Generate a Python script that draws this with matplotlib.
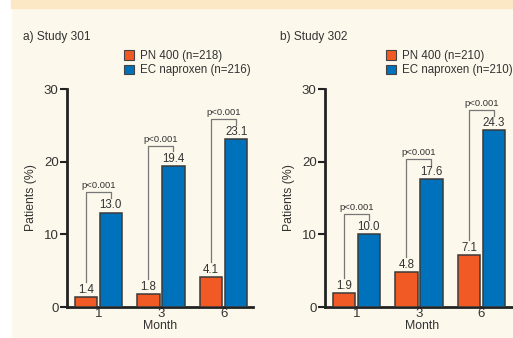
import matplotlib
matplotlib.use("Agg")
import matplotlib.pyplot as plt
from matplotlib.patches import Rectangle
import numpy as np

plt.rcParams['font.family'] = ['Liberation Sans', 'DejaVu Sans']

months = ["1", "3", "6"]
pn400_301 = [1.4, 1.8, 4.1]
ecn_301 = [13.0, 19.4, 23.1]
pn400_302 = [1.9, 4.8, 7.1]
ecn_302 = [10.0, 17.6, 24.3]
p_labels = ["p<0.001", "p<0.001", "p<0.001"]

ORANGE = "#F15A24"
BLUE = "#0072BC"
BG = "#FDF8EC"
TXT = "#333333"

W, H = 513, 338
fig = plt.figure(figsize=(W / 100, H / 100), dpi=100, facecolor=BG)

# white strip on the left and the orange band on top
fig.patches.append(Rectangle((0, 0), 11 / W, 1, transform=fig.transFigure,
                             color="white", zorder=0))
fig.patches.append(Rectangle((11 / W, 1 - 8 / H), 1, 8 / H, transform=fig.transFigure,
                             color="#FDE8C6", zorder=0))


def px_axes(left, right, bottom, top):
    return fig.add_axes([left / W, 1 - bottom / H, (right - left) / W, (bottom - top) / H])


def draw_panel(ax, pn, ec, title, n_pn, n_ec, title_x, leg_x, xmax):
    x = np.arange(len(months))
    w = 0.36
    off = 0.2
    ax.bar(x - off, pn, w, color=ORANGE, edgecolor="#3a3a3a", linewidth=1.1, zorder=3)
    ax.bar(x + off, ec, w, color=BLUE, edgecolor="#3a3a3a", linewidth=1.1, zorder=3)

    for i in range(len(months)):
        ax.text(x[i] - off, pn[i] + 0.15, f"{pn[i]:.1f}", ha="center", va="bottom",
                fontsize=8.3, color=TXT)
        ax.text(x[i] + off, ec[i] + 0.15, f"{ec[i]:.1f}", ha="center", va="bottom",
                fontsize=8.3, color=TXT)
        # significance bracket
        top = ec[i] + 2.8
        ax.plot([x[i] - off, x[i] - off, x[i] + off, x[i] + off],
                [pn[i] + 2.1, top, top, ec[i] + 2.0],
                color="#777777", lw=0.9, clip_on=False, zorder=2)
        ax.text(x[i], top + 0.3, p_labels[i], ha="center", va="bottom",
                fontsize=6.8, color=TXT)

    ax.set_facecolor("none")
    ax.set_ylim(0, 30)
    ax.set_xlim(-0.5, xmax)
    ax.set_yticks([0, 10, 20, 30])
    ax.set_xticks(x)
    ax.set_xticklabels(months)
    ax.tick_params(axis="y", direction="out", length=5, width=1.5, colors="#222222",
                   labelsize=9.5, labelcolor=TXT, pad=1)
    ax.tick_params(axis="x", length=0, labelsize=9.5, labelcolor=TXT, pad=1)
    for s in ["top", "right"]:
        ax.spines[s].set_visible(False)
    for s in ["left", "bottom"]:
        ax.spines[s].set_linewidth(2)
        ax.spines[s].set_color("#222222")
    ax.set_ylabel("Patients (%)", fontsize=8.8, color=TXT, labelpad=5)
    ax.set_xlabel("Month", fontsize=8.8, color=TXT, labelpad=0)

    fig.text(title_x / W, 1 - 37 / H, title, fontsize=8.6, color=TXT, va="center")
    handles = [Rectangle((0, 0), 1, 1, facecolor=ORANGE, edgecolor="#444444", lw=0.8),
               Rectangle((0, 0), 1, 1, facecolor=BLUE, edgecolor="#444444", lw=0.8)]
    fig.legend(handles, [f"PN 400 (n={n_pn})", f"EC naproxen (n={n_ec})"],
               loc="upper left", bbox_to_anchor=(leg_x / W, 1 - 50 / H),
               frameon=False, fontsize=8.3, handlelength=0.85, handleheight=0.85,
               handletextpad=0.5, labelspacing=0.2, borderpad=0, borderaxespad=0,
               labelcolor=TXT)


ax1 = px_axes(67, 253, 307, 89)
draw_panel(ax1, pn400_301, ecn_301, "a) Study 301", 218, 216, 23, 124, 2.47)

ax2 = px_axes(325, 519, 307, 89)
draw_panel(ax2, pn400_302, ecn_302, "b) Study 302", 210, 210, 280, 386, 2.6)

fig.savefig("out.png", dpi=100, facecolor=fig.get_facecolor())
